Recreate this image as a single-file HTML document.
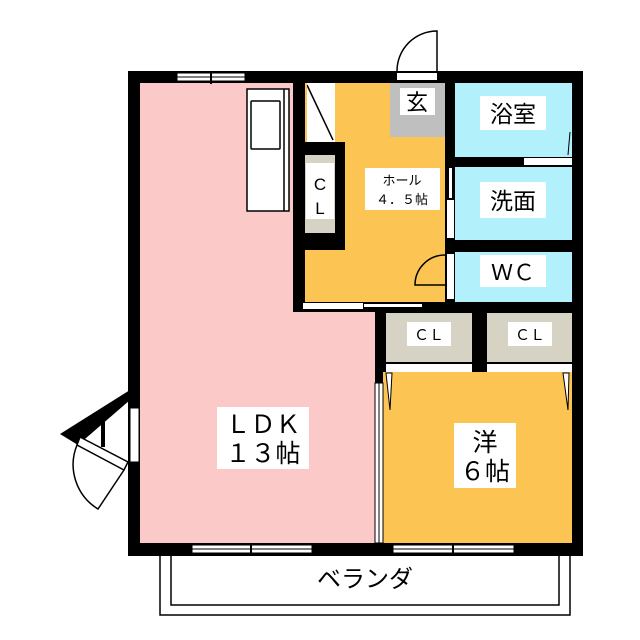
<!DOCTYPE html>
<html><head><meta charset="utf-8"><style>
html,body{margin:0;padding:0;background:#fff;}
svg{display:block}
text{font-family:"Liberation Sans","Noto Sans CJK JP",sans-serif;fill:#000}
</style></head><body>
<svg width="640" height="640" viewBox="0 0 640 640" xmlns="http://www.w3.org/2000/svg">
<!-- outer walls -->
<rect x="128" y="71" width="455" height="485" fill="#000"/>
<!-- LDK -->
<rect x="140" y="83" width="153" height="460" fill="#fcc9c9"/>
<rect x="293" y="312" width="82" height="231" fill="#fcc9c9"/>
<!-- hall -->
<rect x="305" y="83" width="140" height="219" fill="#fcc553"/>
<rect x="390" y="83" width="55" height="54" fill="#bfbfbf"/>
<rect x="305" y="83" width="30" height="59" fill="#fff"/>
<line x1="307" y1="85" x2="333" y2="140" stroke="#000" stroke-width="1.5"/>
<rect x="305" y="83" width="2" height="59" fill="#fcc553"/>
<!-- CL in hall -->
<rect x="295" y="142" width="50" height="108" fill="#000"/>
<rect x="305" y="155" width="30" height="78" fill="#d6d3c5"/>
<rect x="306" y="163" width="28" height="56" fill="#fff"/>
<text x="320" y="190" font-size="17" text-anchor="middle">C</text>
<text x="320" y="214" font-size="17" text-anchor="middle">L</text>
<!-- hall bottom sliding -->
<rect x="303" y="303" width="60" height="6" fill="#fff"/>
<rect x="364" y="304" width="58" height="3" fill="#fff"/>
<!-- wet rooms -->
<rect x="455" y="83" width="117" height="74" fill="#b2f0fb"/>
<rect x="455" y="167" width="117" height="73" fill="#b2f0fb"/>
<rect x="455" y="252" width="117" height="50" fill="#b2f0fb"/>
<rect x="524" y="158" width="48" height="7" fill="#fff"/>
<line x1="570" y1="132" x2="568" y2="155" stroke="#000" stroke-width="1"/>
<rect x="449" y="168" width="3" height="30" fill="#fff"/>
<rect x="447" y="200" width="7" height="38" fill="#fff"/>
<rect x="447" y="254" width="7" height="45" fill="#fff"/>
<path d="M445 255 A 30 30 0 0 0 415 285 L 445 285" fill="none" stroke="#000" stroke-width="1.5"/>
<!-- entrance door -->
<rect x="397" y="73" width="40" height="7" fill="#fff"/>
<path d="M437 71 L437 31 A 40 40 0 0 0 397 71" fill="#fff" stroke="#000" stroke-width="1.5"/>
<!-- lower closets -->
<rect x="386" y="313" width="86" height="49" fill="#d6d3c5"/>
<rect x="487" y="313" width="85" height="49" fill="#d6d3c5"/>
<rect x="386" y="364" width="86" height="8" fill="#fff"/>
<rect x="487" y="364" width="85" height="8" fill="#fff"/>
<!-- 洋 -->
<rect x="383" y="372" width="189" height="171" fill="#fcc553"/>
<path d="M386 373 L392 373 L390 410 Z" fill="#fff" stroke="#000" stroke-width="1"/>
<path d="M569 373 L563 373 L568 410 Z" fill="#fff" stroke="#000" stroke-width="1"/>
<!-- LDK/洋 partition window -->
<rect x="375" y="383" width="8" height="160" fill="#fff" stroke="#000" stroke-width="1"/>
<line x1="379" y1="383" x2="379" y2="543" stroke="#000" stroke-width="1"/>
<!-- kitchen -->
<rect x="247" y="89" width="42" height="122" fill="#fff" stroke="#000" stroke-width="1.5"/>
<line x1="284" y1="89" x2="284" y2="211" stroke="#000" stroke-width="1.5"/>
<rect x="251" y="101" width="29" height="48" rx="1" fill="#fff" stroke="#000" stroke-width="1.5"/>
<!-- windows -->
<rect x="177" y="73" width="68" height="8" fill="#fff" stroke="#000" stroke-width="1"/>
<line x1="177" y1="77" x2="245" y2="77" stroke="#000" stroke-width="1"/>
<line x1="211" y1="71" x2="211" y2="84" stroke="#000" stroke-width="2"/>
<rect x="192" y="545" width="120" height="8" fill="#fff" stroke="#000" stroke-width="1"/>
<line x1="192" y1="549" x2="312" y2="549" stroke="#000" stroke-width="1"/>
<line x1="251" y1="543" x2="251" y2="556" stroke="#000" stroke-width="2"/>
<rect x="393" y="545" width="121" height="8" fill="#fff" stroke="#000" stroke-width="1"/>
<line x1="393" y1="549" x2="514" y2="549" stroke="#000" stroke-width="1"/>
<line x1="453" y1="543" x2="453" y2="556" stroke="#000" stroke-width="2"/>
<!-- veranda -->
<path d="M160 556 L160 615 L570 615 L570 556" fill="none" stroke="#000" stroke-width="1.5"/>
<path d="M171 556 L171 605 L559 605 L559 556" fill="none" stroke="#000" stroke-width="1.5"/>
<!-- side door -->
<rect x="130" y="408" width="9" height="54" fill="#fff" stroke="#000" stroke-width="1"/>
<path d="M130 390 L130 400 L78 445 L60 434 Z" fill="#000"/>
<rect x="101" y="422" width="4" height="25" fill="#000"/>
<path d="M80 437 L128 462 L124 470 L77 445 Z" fill="#fff" stroke="#000" stroke-width="1.5"/>
<path d="M77 445 A 52 52 0 0 0 98 509 L124 470" fill="none" stroke="#000" stroke-width="1.5"/>
<!-- labels -->
<rect x="400" y="88" width="35" height="27" fill="#fff"/>
<text x="417" y="110" font-size="22" text-anchor="middle">玄</text>
<rect x="480" y="96" width="66" height="34" fill="#fff"/>
<text x="513" y="122" font-size="23" text-anchor="middle">浴室</text>
<rect x="480" y="182" width="66" height="36" fill="#fff"/>
<text x="513" y="209" font-size="23" text-anchor="middle">洗面</text>
<rect x="480" y="255" width="66" height="32" fill="#fff"/>
<text x="513" y="280" font-size="22" text-anchor="middle">ＷＣ</text>
<rect x="365" y="168" width="75" height="42" fill="#fff"/>
<text x="402" y="185" font-size="13" text-anchor="middle">ホール</text>
<text x="402" y="204" font-size="13" text-anchor="middle">４．５帖</text>
<rect x="407" y="322" width="44" height="24" fill="#fff"/>
<text x="429" y="340" font-size="15" text-anchor="middle">ＣＬ</text>
<rect x="508" y="322" width="44" height="24" fill="#fff"/>
<text x="530" y="340" font-size="15" text-anchor="middle">ＣＬ</text>
<rect x="217" y="407" width="92" height="62" fill="#fff"/>
<text x="263" y="433" font-size="25" text-anchor="middle">ＬＤＫ</text>
<text x="263" y="462" font-size="25" text-anchor="middle">１３帖</text>
<rect x="454" y="423" width="62" height="65" fill="#fff"/>
<text x="485" y="451" font-size="25" text-anchor="middle">洋</text>
<text x="485" y="480" font-size="25" text-anchor="middle">６帖</text>
<text x="365" y="587" font-size="24" text-anchor="middle">ベランダ</text>
</svg>
</body></html>
